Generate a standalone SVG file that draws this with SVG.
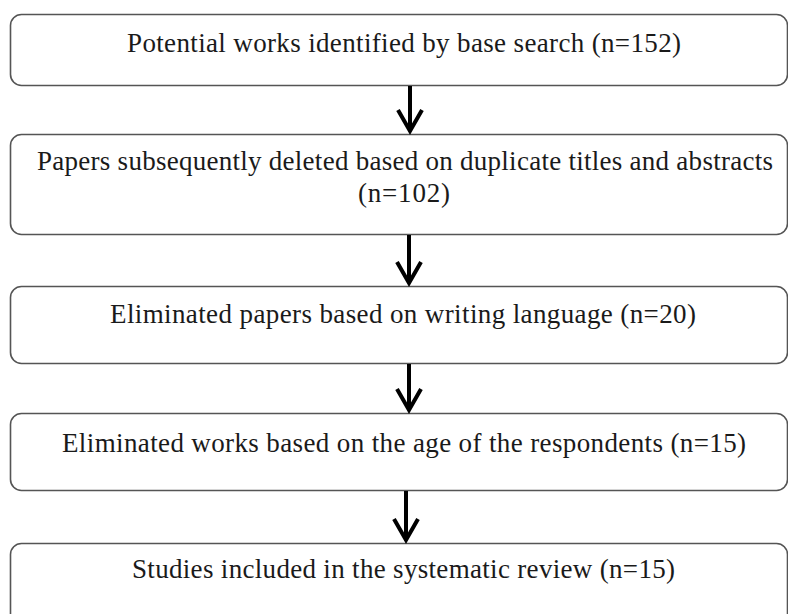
<svg xmlns="http://www.w3.org/2000/svg" width="788" height="614" viewBox="0 0 788 614">
<style>
.box{fill:#fff;stroke:#555;stroke-width:1.6}
.t{font-family:'Liberation Serif','Times New Roman',Times,serif;font-size:27px;fill:#1a1a1a;text-anchor:middle}
.c{stroke:#000;stroke-width:4;fill:none}
</style>
<defs>
<marker id="ah" markerUnits="userSpaceOnUse" orient="auto" refX="0" refY="0" markerWidth="40" markerHeight="40" viewBox="-30 -20 40 40" overflow="visible">
<path d="M-21,-12 L0,0 L-21,12" fill="none" stroke="#000" stroke-width="4"/>
</marker>
</defs>
<rect width="788" height="614" fill="#fff"/>
<g id="n1">
<rect class="box" x="10.5" y="14.5" width="777" height="71" rx="11"/>
<text class="t" x="404" y="52" textLength="554" lengthAdjust="spacing">Potential works identified by base search (n=152)</text>
</g>
<g id="n2">
<rect class="box" x="10.5" y="134.5" width="777" height="100" rx="11"/>
<text class="t" x="405" y="170" textLength="736" lengthAdjust="spacing">Papers subsequently deleted based on duplicate titles and abstracts</text>
<text class="t" x="404" y="202" textLength="92" lengthAdjust="spacing">(n=102)</text>
</g>
<g id="n3">
<rect class="box" x="10.5" y="286.5" width="777" height="77" rx="11"/>
<text class="t" x="403" y="323" textLength="586" lengthAdjust="spacing">Eliminated papers based on writing language (n=20)</text>
</g>
<g id="n4">
<rect class="box" x="10.5" y="413.5" width="777" height="77" rx="11"/>
<text class="t" x="404" y="452" textLength="684" lengthAdjust="spacing">Eliminated works based on the age of the respondents (n=15)</text>
</g>
<g id="n5">
<rect class="box" x="10.5" y="543.5" width="777" height="100" rx="11"/>
<text class="t" x="403.5" y="578" textLength="543" lengthAdjust="spacing">Studies included in the systematic review (n=15)</text>
</g>
<g id="connectors">
<line class="c" x1="410" y1="86" x2="410" y2="131" marker-end="url(#ah)"/>
<line class="c" x1="409" y1="235" x2="409" y2="283" marker-end="url(#ah)"/>
<line class="c" x1="409" y1="364" x2="409" y2="410" marker-end="url(#ah)"/>
<line class="c" x1="406" y1="491" x2="406" y2="540" marker-end="url(#ah)"/>
</g>
</svg>
